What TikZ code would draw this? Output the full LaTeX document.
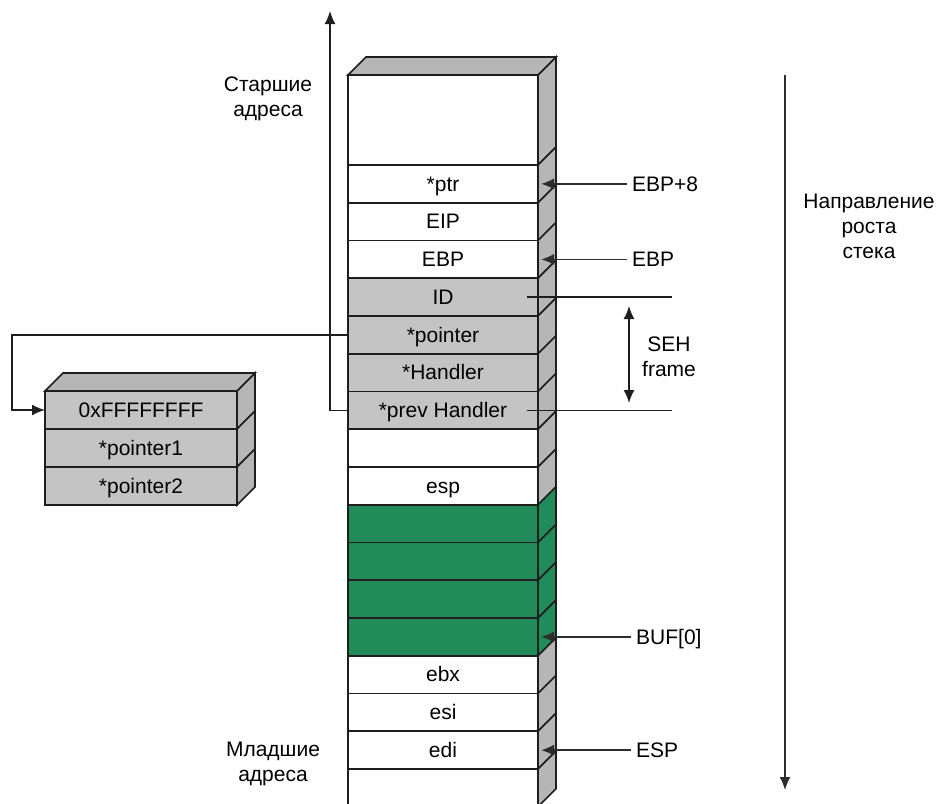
\documentclass[tikz,border=0pt]{standalone}
\usepackage{fontspec}
\setmainfont{Liberation Sans}
\usetikzlibrary{arrows.meta}
\definecolor{cellgray}{RGB}{196,196,196}
\definecolor{sidegray}{RGB}{182,182,182}
\definecolor{bufgreen}{RGB}{34,139,90}
\definecolor{inkline}{RGB}{30,30,30}
\definecolor{annline}{RGB}{45,45,45}
\begin{document}
\begin{tikzpicture}[x=1pt,y=-1pt,
  font=\fontsize{21}{25}\selectfont,
  cell/.style={draw=inkline, line width=1.7pt, minimum width=190pt,
    minimum height=37.75pt, inner sep=0pt, outer sep=0pt, anchor=north west,
    text height=14.5pt, text depth=0pt},
  boxcell/.style={cell, fill=cellgray, minimum width=192pt, minimum height=38pt},
  sideface/.style={draw=inkline, line width=1.7pt},
  lab/.style={inner xsep=5pt, inner ysep=0pt, anchor=west, text height=14.5pt, text depth=0pt},
  tip/.style={-{Latex[length=13pt,width=11pt]}},
  conn/.style={draw=inkline, line width=1.6pt, tip},
  ann/.style={draw=annline, line width=1.6pt, tip},
  plain/.style={draw=inkline, line width=1.6pt}]

\clip (0,0) rectangle (941,803);
\fill[white] (0,0) rectangle (941,803);

% ---- stack: front cells ----
\node[cell, fill=white, minimum height=90pt] (r0) at (348,75) {};
\foreach \i/\t/\c in {1/*ptr/white, 2/EIP/white, 3/EBP/white, 4/ID/cellgray,
    5/*pointer/cellgray, 6/*Handler/cellgray, 7/*prev Handler/cellgray,
    8/{}/white, 9/esp/white, 10/{}/bufgreen, 11/{}/bufgreen, 12/{}/bufgreen,
    13/{}/bufgreen, 14/ebx/white, 15/esi/white, 16/edi/white, 17/{}/white}{
  \pgfmathsetmacro\yy{165+37.75*(\i-1)}
  \node[cell, fill=\c] (r\i) at (348,\yy) {\t};
}

% ---- stack: side face, one slab per cell ----
\foreach \i/\c in {0/sidegray, 1/sidegray, 2/sidegray, 3/sidegray, 4/sidegray,
    5/sidegray, 6/sidegray, 7/sidegray, 8/sidegray, 9/sidegray, 10/bufgreen,
    11/bufgreen, 12/bufgreen, 13/bufgreen, 14/sidegray, 15/sidegray,
    16/sidegray, 17/sidegray}{
  \filldraw[sideface, fill=\c] (r\i.north east) -- ++(18,-18)
    -- ([shift={(18,-18)}]r\i.south east) -- (r\i.south east) -- cycle;
}
% ---- stack: top face ----
\filldraw[sideface, fill=sidegray] (r0.north west) -- ++(18,-18)
  -- ([shift={(18,-18)}]r0.north east) -- (r0.north east) -- cycle;

% ---- exception registration record ----
\node[boxcell] (b0) at (45,391) {0xFFFFFFFF};
\node[boxcell] (b1) at (45,429) {*pointer1};
\node[boxcell] (b2) at (45,467) {*pointer2};
\foreach \b in {b0,b1,b2}{
  \filldraw[sideface, fill=sidegray] (\b.north east) -- ++(18,-18)
    -- ([shift={(18,-18)}]\b.south east) -- (\b.south east) -- cycle;
}
\filldraw[sideface, fill=sidegray] (b0.north west) -- ++(18,-18)
  -- ([shift={(18,-18)}]b0.north east) -- (b0.north east) -- cycle;

% ---- address direction and chain links ----
\coordinate (upTip) at (330,11);
\draw[conn] (r7.west) -| (upTip);
\coordinate (loopX) at (12,0);
\draw[conn] (r5.west) -- (r5.west -| loopX) |- (b0.west);

\node[align=center] (hiAddr) at (268,99) {Старшие\\адреса};
\node[align=center] (loAddr) at (273,764) {Младшие\\адреса};

% ---- register pointers ----
\node[lab] (lEBP8) at ([xshift=89pt]r1.east) {EBP+8};
\draw[ann] (lEBP8.west) -- ([xshift=3pt]r1.east);
\node[lab] (lEBP) at ([xshift=89pt]r3.east) {EBP};
\draw[ann] (lEBP.west) -- ([xshift=3pt]r3.east);
\node[lab] (lBUF) at ([xshift=93pt]r13.east) {BUF[0]};
\draw[ann] (lBUF.west) -- ([xshift=3pt]r13.east);
\node[lab] (lESP) at ([xshift=93pt]r16.east) {ESP};
\draw[ann] (lESP.west) -- ([xshift=3pt]r16.east);

% ---- SEH frame bracket ----
\coordinate (idA) at ([xshift=-11pt]r4.east);
\coordinate (idB) at ([xshift=134pt]r4.east);
\coordinate (phA) at ([xshift=-11pt]r7.east);
\coordinate (phB) at ([xshift=134pt]r7.east);
\draw[plain] (idA) -- (idB);
\draw[plain] (phA) -- (phB);
\coordinate (sehTop) at (629,306);
\coordinate (sehBot) at (629,403);
\draw[plain, {Latex[length=13pt,width=11pt]}-{Latex[length=13pt,width=11pt]}] (sehTop) -- (sehBot);
\node[align=center] (sehLbl) at (669,357) {SEH\\frame};

% ---- growth direction ----
\coordinate (growTop) at (785,75);
\coordinate (growBot) at (785,790);
\draw[ann] (growTop) -- (growBot);
\node[align=center] (growLbl) at (869,226) {Направление\\роста\\стека};
\end{tikzpicture}
\end{document}
